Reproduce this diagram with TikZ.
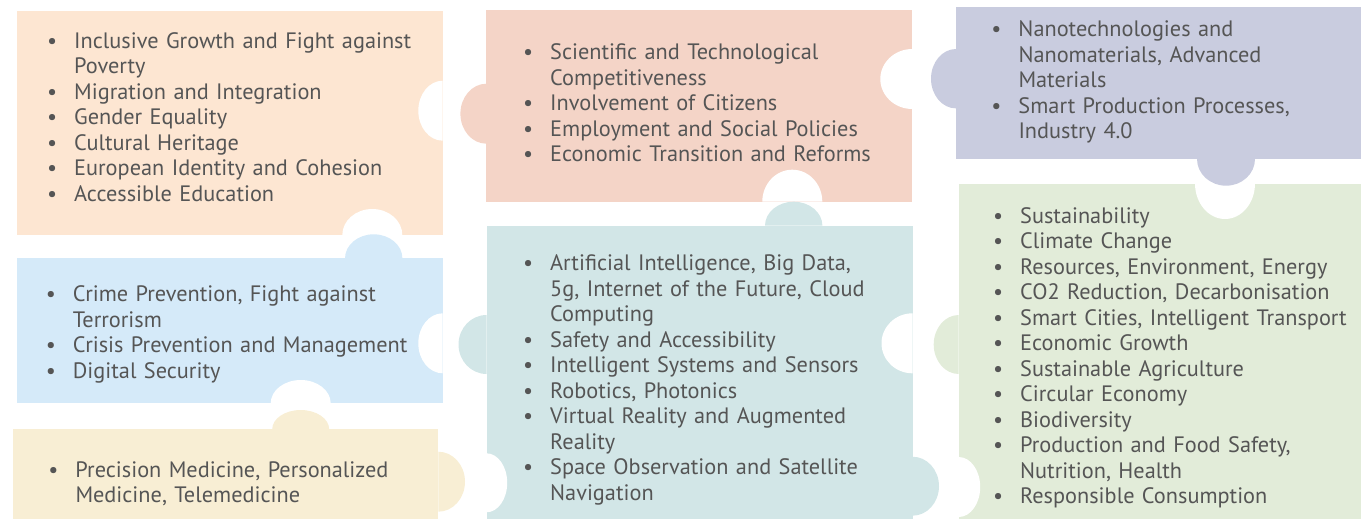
\documentclass[tikz,border=0pt]{standalone}
\usepackage{fontspec}
\setmainfont{PT Sans}
\definecolor{pcA}{HTML}{FDE6D2}
\definecolor{pcB}{HTML}{F4D4C7}
\definecolor{pcC}{HTML}{C9CCDF}
\definecolor{pcD}{HTML}{E2ECD9}
\definecolor{pcE}{HTML}{D5EAF9}
\definecolor{pcF}{HTML}{D2E6E7}
\definecolor{pcG}{HTML}{F8EED4}
\definecolor{txt}{HTML}{555555}
\newcommand\pzR[5]{\fill[#1] (#2,#3-#5) arc[start angle=-90,end angle=90,x radius=#4,y radius=#5] -- cycle;}
\newcommand\pzL[5]{\fill[#1] (#2,#3+#5) arc[start angle=90,end angle=270,x radius=#4,y radius=#5] -- cycle;}
\newcommand\pzU[5]{\fill[#1] (#2-#4,#3) arc[start angle=180,end angle=360,x radius=#4,y radius=#5] -- cycle;}
\newcommand\pzD[5]{\fill[#1] (#2+#4,#3) arc[start angle=0,end angle=180,x radius=#4,y radius=#5] -- cycle;}
\newcommand\bl[1]{\leavevmode\llap{\makebox[44pt][c]{•}}#1}
\newcommand\cl[1]{\leavevmode#1}
\begin{document}
\begin{tikzpicture}[x=1pt,y=-1pt,
  list/.style={anchor=base west,inner sep=0pt,text width=420pt,align=left,
    text=txt,font=\fontsize{22.3}{25.5}\selectfont}]
\useasboundingbox (0,0) rectangle (1361,519);
% rectangles
\fill[pcA] (17,11) rectangle (442.7,235);
\fill[pcB] (486.4,10.3) rectangle (912.3,201.7);
\fill[pcC] (956,7.3) rectangle (1361,159);
\fill[pcD] (958.7,183.5) rectangle (1361,519);
\fill[pcE] (16.7,258.3) rectangle (442.7,403.3);
\fill[pcF] (486.5,225.7) rectangle (912.5,519);
\fill[pcG] (12.7,429.3) rectangle (438.3,519);
% notches
\pzL{white}{442.7}{110.7}{24.4}{30}
\pzU{white}{372.3}{235}{30}{26}
\pzL{white}{912.3}{79}{32}{30}
\pzU{white}{792.3}{201.7}{30}{32}
\pzD{white}{1225}{183.5}{30}{35.5}
\pzR{white}{958.7}{487}{21.5}{30}
\pzL{white}{442.7}{343.3}{24.4}{30}
\pzU{white}{300.7}{403.3}{30}{23.3}
\pzL{white}{912.5}{343.3}{31}{30}
\pzR{white}{486.5}{482.8}{20.7}{29.5}
% tabs
\pzL{pcB}{486.4}{113.7}{26}{30}
\pzL{pcC}{956}{78.7}{25}{29.7}
\pzD{pcC}{1226}{159}{29}{26.7}
\pzL{pcD}{958.7}{344.5}{25}{29.5}
\pzU{pcE}{373.7}{258.3}{28.7}{24}
\pzU{pcF}{793.7}{225.7}{28.7}{24}
\pzL{pcF}{486.5}{344.5}{28}{29.5}
\pzR{pcF}{912.5}{486.2}{26.5}{29.5}
\pzU{pcG}{300.7}{429.3}{28.5}{19.3}
\pzR{pcG}{438.3}{481.7}{26.7}{30}
% texts
\node[list] (tA) at (74,48.3) {\bl{Inclusive Growth and Fight against}\\
\cl{Poverty}\\
\bl{Migration and Integration}\\
\bl{Gender Equality}\\
\bl{Cultural Heritage}\\
\bl{European Identity and Cohesion}\\
\bl{Accessible Education}};
\node[list] (tB) at (550,60) {\bl{Scientific and Technological}\\
\cl{Competitiveness}\\
\bl{Involvement of Citizens}\\
\bl{Employment and Social Policies}\\
\bl{Economic Transition and Reforms}};
\node[list] (tC) at (1018.3,36.7) {\bl{Nanotechnologies and}\\
\cl{Nanomaterials, Advanced}\\
\cl{Materials}\\
\bl{Smart Production Processes,}\\
\cl{Industry 4.0}};
\node[list] (tD) at (1020,223.3) {\bl{Sustainability}\\
\bl{Climate Change}\\
\bl{Resources, Environment, Energy}\\
\bl{CO2 Reduction, Decarbonisation}\\
\bl{Smart Cities, Intelligent Transport}\\
\bl{Economic Growth}\\
\bl{Sustainable Agriculture}\\
\bl{Circular Economy}\\
\bl{Biodiversity}\\
\bl{Production and Food Safety,}\\
\cl{Nutrition, Health}\\
\bl{Responsible Consumption}};
\node[list] (tE) at (72.7,301.7) {\bl{Crime Prevention, Fight against}\\
\cl{Terrorism}\\
\bl{Crisis Prevention and Management}\\
\bl{Digital Security}};
\node[list] (tF) at (550,270.7) {\bl{Artificial Intelligence, Big Data,}\\
\cl{5g, Internet of the Future, Cloud}\\
\cl{Computing}\\
\bl{Safety and Accessibility}\\
\bl{Intelligent Systems and Sensors}\\
\bl{Robotics, Photonics}\\
\bl{Virtual Reality and Augmented}\\
\cl{Reality}\\
\bl{Space Observation and Satellite}\\
\cl{Navigation}};
\node[list,font=\fontsize{22.3}{25}\selectfont] (tG) at (75.3,477.7) {\bl{Precision Medicine, Personalized}\\
\cl{Medicine, Telemedicine}};
\end{tikzpicture}
\end{document}
